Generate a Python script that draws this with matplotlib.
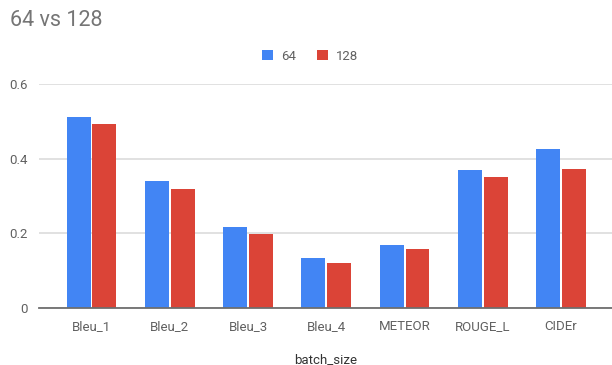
import numpy as np
import matplotlib.pyplot as plt

metrics = ['Bleu_1', 'Bleu_2', 'Bleu_3', 'Bleu_4', 'METEOR', 'ROUGE_L', 'CIDEr']
batch_64 = [0.511, 0.339, 0.216, 0.135, 0.168, 0.369, 0.425]
batch_128 = [0.492, 0.320, 0.198, 0.121, 0.159, 0.351, 0.371]
series_names = ['64', '128']
yticks = [0, 0.2, 0.4, 0.6]
ytick_labels = ['0', '0.2', '0.4', '0.6']

plt.rcParams['font.family'] = ['Roboto', 'DejaVu Sans']

blue = '#4285F4'
red = '#DB4437'
grey_text = '#616161'

fig = plt.figure(figsize=(6.12, 3.65), dpi=100)
ax = fig.add_axes([39 / 612, 1 - 308 / 365, 1 - 39 / 612, (308 - 84) / 365])

x = np.arange(len(metrics))
w = 0.305
gap = 0.012
ax.bar(x - w / 2 - gap, batch_64, width=w, color=blue, label=series_names[0], zorder=3)
ax.bar(x + w / 2 + gap, batch_128, width=w, color=red, label=series_names[1], zorder=3)

ax.set_xlim(-0.67, 6.65)
ax.set_ylim(0, 0.6)
ax.set_yticks(yticks)
ax.set_yticklabels(ytick_labels)
ax.set_xticks(x)
ax.set_xticklabels(metrics)
ax.tick_params(axis='both', length=0, labelsize=9.5, colors=grey_text)
ax.tick_params(axis='x', pad=9)
ax.tick_params(axis='y', pad=8)
ax.grid(axis='y', color='#dcdcdc', linewidth=1.2, zorder=0)
for side in ['top', 'right', 'left']:
    ax.spines[side].set_visible(False)
ax.spines['bottom'].set_color('#6e6e6e')
ax.spines['bottom'].set_linewidth(1.3)
ax.spines['bottom'].set_zorder(4)

ax.set_xlabel('batch_size', fontsize=9.5, color='#333333', labelpad=14)

fig.text(10 / 612, 1 - 21 / 365, '64 vs 128', fontsize=15.5, color='#757575', va='center', ha='left')

leg = fig.legend(loc='center', bbox_to_anchor=(310 / 612, 1 - 56 / 365), ncol=2, frameon=False,
                 fontsize=9.5, handlelength=0.85, handleheight=0.85, handletextpad=0.6,
                 columnspacing=1.6, labelcolor=grey_text)

fig.savefig('out.png', dpi=100)
